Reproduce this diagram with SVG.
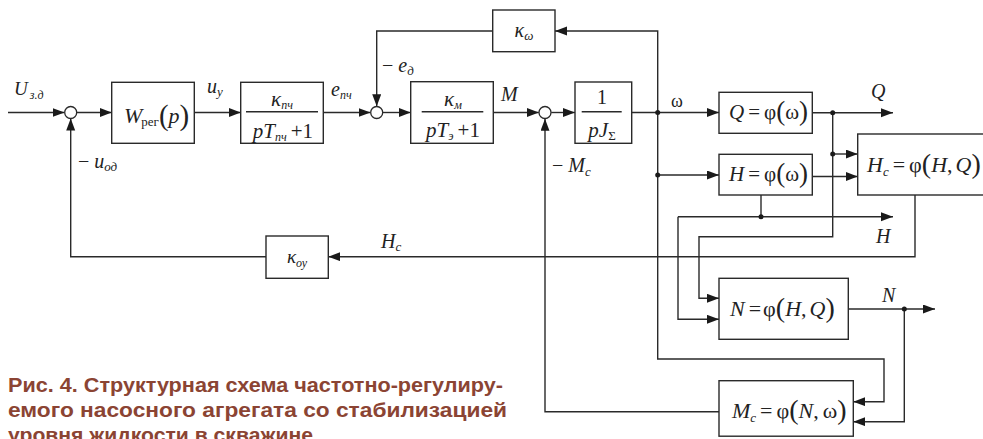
<svg xmlns="http://www.w3.org/2000/svg" width="983" height="439" viewBox="0 0 983 439">
<style>
.ln{stroke:#2a2a2a;stroke-width:1.4;fill:none}
.bx{fill:#fff;stroke:#2a2a2a;stroke-width:1.4}
.sum{fill:#fff;stroke:#2a2a2a;stroke-width:1.3}
.dot{fill:#1a1a1a}
.m{font-family:"Liberation Serif","Times New Roman","DejaVu Serif",serif;font-style:italic;fill:#222}
.u{font-style:normal}
.p{font-style:normal}
.cap{font-family:"Liberation Sans",Arial,sans-serif;font-weight:bold;font-size:21px;fill:#8b4433}
</style>
<defs>
<marker id="a" markerUnits="userSpaceOnUse" markerWidth="13" markerHeight="10" refX="12" refY="4.5" orient="auto">
<path d="M0,0 L12,4.5 L0,9 z" fill="#1a1a1a"/>
</marker>
</defs>
<g id="connectors">
<path class="ln" marker-end="url(#a)" d="M8,112.5 H64.5"/>
<path class="ln" marker-end="url(#a)" d="M76.9,112.5 H111.7"/>
<path class="ln" marker-end="url(#a)" d="M194.3,112.5 H240.7"/>
<path class="ln" marker-end="url(#a)" d="M323.3,112.5 H370.5"/>
<path class="ln" marker-end="url(#a)" d="M492.7,31 H376.7 V106.3"/>
<path class="ln" marker-end="url(#a)" d="M382.9,112.5 H410.7"/>
<path class="ln" marker-end="url(#a)" d="M493.3,112.5 H538.8"/>
<path class="ln" marker-end="url(#a)" d="M551.2,112.5 H575"/>
<path class="ln" marker-end="url(#a)" d="M631.7,112.5 H719"/>
<path class="ln" marker-end="url(#a)" d="M657.7,112.5 V31 H555"/>
<path class="ln" marker-end="url(#a)" d="M657.7,112.5 V359 H884 V401.7 H853.3"/>
<path class="ln" marker-end="url(#a)" d="M657.7,175 H719"/>
<path class="ln" marker-end="url(#a)" d="M812.3,112.7 H893"/>
<path class="ln" marker-end="url(#a)" d="M832.7,112.7 V236.7 H699 V298.3 H719"/>
<path class="ln" marker-end="url(#a)" d="M832.7,154 H857.7"/>
<path class="ln" marker-end="url(#a)" d="M812.3,176.5 H857.7"/>
<path class="ln" d="M761,195 V216.7"/>
<path class="ln" marker-end="url(#a)" d="M678,216.7 H893"/>
<path class="ln" marker-end="url(#a)" d="M678,216.7 V319.3 H719"/>
<path class="ln" marker-end="url(#a)" d="M915,195 V256.7 H328.3"/>
<path class="ln" marker-end="url(#a)" d="M266,256.7 H70.7 V118.6"/>
<path class="ln" marker-end="url(#a)" d="M848.3,309 H935"/>
<path class="ln" marker-end="url(#a)" d="M904.3,309 V421.7 H853.3"/>
<path class="ln" marker-end="url(#a)" d="M719,411.7 H545 V118.8"/>
<circle class="dot" cx="657.7" cy="112.5" r="2.5"/>
<circle class="dot" cx="657.7" cy="175" r="2.5"/>
<circle class="dot" cx="832.7" cy="112.7" r="2.5"/>
<circle class="dot" cx="832.7" cy="154" r="2.5"/>
<circle class="dot" cx="761" cy="216.7" r="2.5"/>
<circle class="dot" cx="904.3" cy="309" r="2.5"/>
</g>
<g id="sum1"><circle class="sum" cx="70.7" cy="112.5" r="6"/></g>
<g id="sum2"><circle class="sum" cx="376.7" cy="112.5" r="6"/></g>
<g id="sum3"><circle class="sum" cx="545" cy="112.5" r="6"/></g>
<g id="Wreg">
<rect class="bx" x="111.7" y="82.3" width="82.6" height="61"/>
<text class="m" x="124" y="123" font-size="22">W<tspan class="u" font-size="13" dy="3" dx="-1">рег</tspan><tspan class="p" font-size="29" dy="-1">(</tspan><tspan dy="-2">p</tspan><tspan class="p" font-size="29" dy="2">)</tspan></text>
</g>
<g id="kpch">
<rect class="bx" x="240.7" y="82.3" width="82.6" height="61"/>
<text class="m" x="282" y="106" text-anchor="middle" font-size="21">κ<tspan font-size="12" dy="3">пч</tspan></text>
<path class="ln" d="M246,111.7 H318"/>
<text class="m" x="283" y="138" text-anchor="middle" font-size="21">pT<tspan font-size="12" dy="3">пч</tspan><tspan class="u" dy="-3" dx="4">+1</tspan></text>
</g>
<g id="kw">
<rect class="bx" x="492.7" y="10" width="62.3" height="41.7"/>
<text class="m" x="524" y="37" text-anchor="middle" font-size="20">κ<tspan font-size="13" dy="3">ω</tspan></text>
</g>
<g id="km">
<rect class="bx" x="410.7" y="81.7" width="82.6" height="61.6"/>
<text class="m" x="453" y="106" text-anchor="middle" font-size="21">κ<tspan font-size="12" dy="3">м</tspan></text>
<path class="ln" d="M421.7,111.7 H483.3"/>
<text class="m" x="453" y="137" text-anchor="middle" font-size="21">pT<tspan font-size="12" dy="3">э</tspan><tspan class="u" dy="-3" dx="4">+1</tspan></text>
</g>
<g id="pJ">
<rect class="bx" x="575" y="82" width="56.7" height="61.3"/>
<text class="m u" x="602" y="104" text-anchor="middle" font-size="20">1</text>
<path class="ln" d="M581.7,111.7 H621.7"/>
<text class="m" x="602" y="137" text-anchor="middle" font-size="21">pJ<tspan class="u" font-size="13" dy="3">Σ</tspan></text>
</g>
<g id="Qbox">
<rect class="bx" x="719" y="92.3" width="93.3" height="41"/>
<text class="m" x="729" y="119" font-size="21">Q<tspan class="u" dx="4">=</tspan><tspan class="u" dx="4">φ</tspan><tspan class="p" font-size="27" dy="1">(</tspan><tspan class="u" dy="-1">ω</tspan><tspan class="p" font-size="27" dy="1">)</tspan></text>
</g>
<g id="Hbox">
<rect class="bx" x="719" y="154.3" width="93.3" height="40.7"/>
<text class="m" x="729" y="181" font-size="21">H<tspan class="u" dx="4">=</tspan><tspan class="u" dx="4">φ</tspan><tspan class="p" font-size="27" dy="1">(</tspan><tspan class="u" dy="-1">ω</tspan><tspan class="p" font-size="27" dy="1">)</tspan></text>
</g>
<g id="Hcbox">
<rect class="bx" x="857.7" y="134" width="140" height="61"/>
<text class="m" x="867" y="172" font-size="22">H<tspan font-size="13" dy="4">c</tspan><tspan class="u" dy="-4" dx="4">=</tspan><tspan class="u" dx="4">φ</tspan><tspan class="p" font-size="28" dy="1">(</tspan><tspan dy="-1">H</tspan><tspan class="u">,</tspan><tspan dx="3">Q</tspan><tspan class="p" font-size="28" dy="1">)</tspan></text>
</g>
<g id="Nbox">
<rect class="bx" x="719" y="278.3" width="129.3" height="61"/>
<text class="m" x="730" y="316" font-size="22">N<tspan class="u" dx="4">=</tspan><tspan class="u" dx="2">φ</tspan><tspan class="p" font-size="28" dy="1">(</tspan><tspan dy="-1">H</tspan><tspan class="u">,</tspan><tspan dx="3">Q</tspan><tspan class="p" font-size="28" dy="1">)</tspan></text>
</g>
<g id="Mbox">
<rect class="bx" x="719" y="380.7" width="134.3" height="55.5"/>
<text class="m" x="732" y="418" font-size="22">M<tspan font-size="13" dy="4">c</tspan><tspan class="u" dy="-4" dx="4">=</tspan><tspan class="u" dx="4">φ</tspan><tspan class="p" font-size="28" dy="1">(</tspan><tspan dy="-1">N</tspan><tspan class="u">,</tspan><tspan class="u" dx="4">ω</tspan><tspan class="p" font-size="28" dy="1">)</tspan></text>
</g>
<g id="koy">
<rect class="bx" x="266" y="236" width="62.3" height="42.3"/>
<text class="m" x="297" y="263" text-anchor="middle" font-size="19">κ<tspan font-size="12" dy="4">оу</tspan></text>
</g>
<g id="labels">
<text class="m" x="14" y="95" font-size="19">U<tspan font-size="12" dy="4" dx="2">з.д</tspan></text>
<text class="m" x="78" y="168" font-size="20"><tspan class="u">− </tspan>u<tspan font-size="13" dy="3">од</tspan></text>
<text class="m" x="207" y="93" font-size="20">u<tspan font-size="13" dy="3">у</tspan></text>
<text class="m" x="331" y="96" font-size="20">e<tspan font-size="12" dy="3">пч</tspan></text>
<text class="m" x="382" y="72" font-size="20"><tspan class="u">− </tspan>e<tspan font-size="13" dy="3">д</tspan></text>
<text class="m" x="501" y="101" font-size="20">M</text>
<text class="m" x="552" y="172" font-size="20"><tspan class="u">− </tspan>M<tspan font-size="13" dy="4">c</tspan></text>
<text class="m u" x="671" y="107" font-size="18">ω</text>
<text class="m" x="871" y="98" font-size="20">Q</text>
<text class="m" x="876" y="243" font-size="20">H</text>
<text class="m" x="381" y="248" font-size="20">H<tspan font-size="13" dy="3">c</tspan></text>
<text class="m" x="882" y="302" font-size="20">N</text>
</g>
<g id="caption">
<text class="cap" x="8" y="392" textLength="495" lengthAdjust="spacingAndGlyphs">Рис. 4. Структурная схема частотно-регулиру-</text>
<text class="cap" x="8" y="417" textLength="499" lengthAdjust="spacingAndGlyphs">емого насосного агрегата со стабилизацией</text>
<text class="cap" x="8" y="442" textLength="305" lengthAdjust="spacingAndGlyphs">уровня жидкости в скважине</text>
</g>
</svg>
